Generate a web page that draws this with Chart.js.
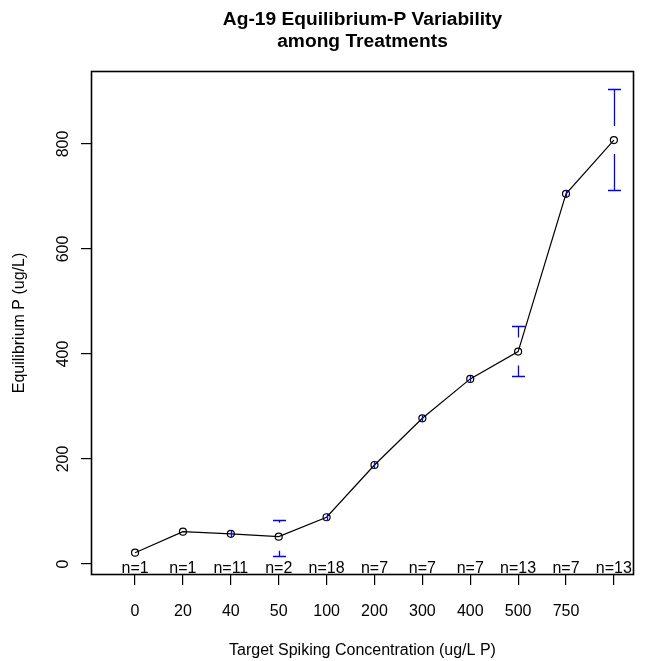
<!DOCTYPE html>
<html>
<head>
<meta charset="utf-8">
<title>Ag-19 Equilibrium-P Variability</title>
<script src="https://cdn.jsdelivr.net/npm/chart.js@4/dist/chart.umd.min.js"></script>
<style>
    html, body { margin: 0; padding: 0; background: #fff; }
    canvas { display: block; }
</style>
</head>
<body>
<canvas id="chartCanvas" width="651" height="661"></canvas>
<script>
const doseLabels = ['0', '20', '40', '50', '100', '200', '300', '400', '500', '750', ''];
const nCounts = [1, 1, 11, 2, 18, 7, 7, 7, 13, 7, 13];
const meanP = [21.5, 61.5, 57.5, 52, 89, 188.5, 277.5, 352.5, 404.5, 705, 807.5];
// confidence limits, null where only one sample
const ciUpper = [null, null, 64, 84, 96, 194, 283, 358, 453, 712, 905];
const ciLower = [null, null, 51, 15, 82, 183, 272, 347, 358, 698, 712];
const yTicks = [0, 200, 400, 600, 800];

const FONT = '"Liberation Sans", Arial, sans-serif';
const GAP = 14;      // px left clear around each point
const CAP = 6.5;     // half width of the bar ends

const points = meanP.map((v, i) => ({ x: i + 1, y: v }));

const textPlugin = {
    id: 'rDecor',
    afterDatasetsDraw(chart) {
        const ctx = chart.ctx;
        const xs = chart.scales.x;
        const ys = chart.scales.y;
        const area = chart.chartArea;

        // error bars
        ctx.save();
        ctx.strokeStyle = '#0000ff';
        ctx.lineWidth = 1.3;
        meanP.forEach((m, i) => {
            const px = Math.round(xs.getPixelForValue(i + 1)) + 0.5;
            const py = ys.getPixelForValue(m);
            [ciUpper[i], ciLower[i]].forEach((lim, k) => {
                if (lim === null) return;
                const ly = ys.getPixelForValue(lim);
                const dir = k === 0 ? -1 : 1;
                const dist = Math.abs(ly - py);
                ctx.beginPath();
                if (dist > GAP) {
                    ctx.moveTo(px, py + dir * GAP);
                    ctx.lineTo(px, ly);
                    ctx.moveTo(px - CAP, Math.round(ly) + 0.5);
                    ctx.lineTo(px + CAP, Math.round(ly) + 0.5);
                } else {
                    ctx.moveTo(px, py);
                    ctx.lineTo(px, ly);
                }
                ctx.stroke();
            });
        });
        ctx.restore();

        ctx.save();
        // plot box
        ctx.strokeStyle = '#000';
        ctx.lineWidth = 1.6;
        ctx.strokeRect(Math.round(area.left) + 0.5, Math.round(area.top) + 0.5,
            Math.round(area.right - area.left) - 1, Math.round(area.bottom - area.top) - 1);

        ctx.fillStyle = '#000';
        ctx.font = '16px ' + FONT;
        ctx.textAlign = 'center';
        ctx.textBaseline = 'alphabetic';

        // x tick labels and sample counts
        doseLabels.forEach((lab, i) => {
            const px = xs.getPixelForValue(i + 1);
            ctx.fillText(lab, px, 616);
            ctx.fillText('n=' + nCounts[i], px, 572.5);
        });

        // x axis title
        ctx.fillText('Target Spiking Concentration (ug/L P)', (area.left + area.right) / 2, 655);

        // y tick labels, rotated
        yTicks.forEach(v => {
            const py = ys.getPixelForValue(v);
            ctx.save();
            ctx.translate(68, py);
            ctx.rotate(-Math.PI / 2);
            ctx.fillText(String(v), 0, 0);
            ctx.restore();
        });

        // y axis title
        ctx.save();
        ctx.translate(24, (area.top + area.bottom) / 2);
        ctx.rotate(-Math.PI / 2);
        ctx.fillText('Equilibrium P (ug/L)', 0, 0);
        ctx.restore();

        ctx.restore();
    }
};

const ctx = document.getElementById('chartCanvas').getContext('2d');
const chart = new Chart(ctx, {
    type: 'line',
    data: {
        datasets: [{
            data: points,
            borderColor: '#000',
            borderWidth: 1.2,
            tension: 0,
            fill: false,
            pointStyle: 'circle',
            pointRadius: 3.5,
            pointBorderWidth: 1.2,
            pointBorderColor: '#000',
            pointBackgroundColor: 'rgba(0,0,0,0)'
        }]
    },
    options: {
        responsive: false,
        animation: false,
        events: [],
        layout: { padding: { left: 0, right: 17, top: 0, bottom: 0 } },
        plugins: {
            legend: { display: false },
            tooltip: { enabled: false },
            title: {
                display: true,
                fullSize: false,
                text: ['Ag-19 Equilibrium-P Variability', 'among Treatments'],
                color: '#000',
                font: { family: FONT, size: 19.2, weight: 'bold', lineHeight: 1.16 },
                padding: { top: 8.5, bottom: 17.95 }
            }
        },
        scales: {
            x: {
                type: 'linear',
                min: 0.08,
                max: 11.42,
                afterBuildTicks: s => { s.ticks = doseLabels.map((_, i) => ({ value: i + 1 })); },
                afterFit: s => { s.height = 86; },
                ticks: { display: false },
                border: { display: false },
                grid: { drawOnChartArea: false, drawTicks: true, tickLength: 10, tickColor: '#000', lineWidth: 1.2 }
            },
            y: {
                type: 'linear',
                min: -21,
                max: 939,
                afterBuildTicks: s => { s.ticks = yTicks.map(v => ({ value: v })); },
                afterFit: s => { s.width = 91; },
                ticks: { display: false },
                border: { display: false },
                grid: { drawOnChartArea: false, drawTicks: true, tickLength: 10, tickColor: '#000', lineWidth: 1.2 }
            }
        }
    },
    plugins: [textPlugin]
});
</script>
</body>
</html>
